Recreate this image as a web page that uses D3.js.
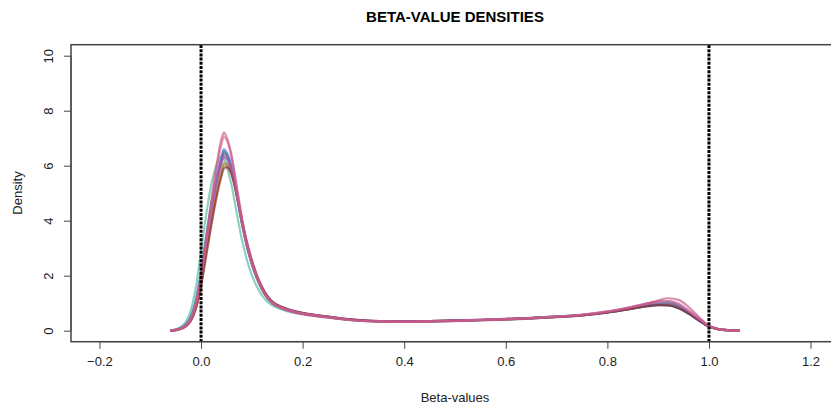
<!DOCTYPE html>
<html>
<head>
<meta charset="utf-8">
<script src="https://cdn.jsdelivr.net/npm/d3@7"></script>
<style>
  body { margin: 0; background: #fff; }
  svg { font-family: "Liberation Sans", Arial, sans-serif; }
</style>
</head>
<body>
<svg id="chart" width="831" height="408"></svg>
<script>
var betaGrid = [-0.06,-0.05,-0.04,-0.03,-0.02,-0.01,0,0.01,0.02,0.03,0.04,0.045,0.05,0.06,0.07,0.08,0.09,0.1,0.11,0.12,0.13,0.14,0.16,0.18,0.2,0.25,0.3,0.35,0.4,0.45,0.5,0.55,0.6,0.65,0.7,0.75,0.8,0.85,0.88,0.9,0.92,0.94,0.96,0.98,1.0,1.02,1.04,1.06];

var sampleTeal   = [0.01,0.05,0.14,0.32,0.75,1.6,2.9,4.2,5.3,6.0,6.35,6.3,6.0,5.3,4.3,3.35,2.6,2.02,1.6,1.28,1.06,0.92,0.76,0.66,0.6,0.48,0.38,0.34,0.33,0.34,0.36,0.38,0.41,0.45,0.5,0.56,0.67,0.83,0.93,0.98,0.98,0.88,0.66,0.4,0.16,0.05,0.015,0];
var sampleCyan   = [0,0.04,0.11,0.25,0.55,1.2,2.25,3.5,4.6,5.5,6.2,6.5,6.42,5.92,4.98,3.95,3.08,2.4,1.88,1.48,1.19,1.0,0.81,0.69,0.62,0.49,0.38,0.34,0.33,0.34,0.36,0.38,0.41,0.45,0.5,0.56,0.66,0.8,0.89,0.93,0.92,0.82,0.62,0.37,0.15,0.05,0.015,0];
var sampleGreen  = [0,0.03,0.1,0.22,0.5,1.1,2.1,3.35,4.5,5.45,6.2,6.45,6.38,5.9,5.0,4.0,3.12,2.44,1.9,1.5,1.2,1.01,0.82,0.7,0.62,0.49,0.38,0.34,0.33,0.34,0.36,0.38,0.41,0.45,0.5,0.56,0.67,0.84,0.96,1.03,1.04,0.93,0.69,0.41,0.16,0.05,0.015,0];
var sampleOlive  = [0,0.03,0.08,0.19,0.42,0.92,1.85,3.0,4.1,5.05,5.8,6.1,6.1,5.7,4.9,3.95,3.12,2.46,1.94,1.53,1.23,1.03,0.83,0.71,0.63,0.5,0.39,0.35,0.34,0.35,0.37,0.39,0.42,0.46,0.5,0.57,0.67,0.81,0.9,0.94,0.93,0.83,0.63,0.38,0.15,0.05,0.015,0];
var sampleBrown  = [0,0.02,0.07,0.17,0.38,0.85,1.7,2.85,3.95,4.95,5.75,6.02,6.05,5.72,4.98,4.05,3.2,2.52,1.98,1.57,1.26,1.05,0.85,0.72,0.64,0.51,0.4,0.35,0.34,0.35,0.37,0.4,0.43,0.47,0.52,0.58,0.69,0.84,0.93,0.97,0.96,0.86,0.64,0.39,0.15,0.05,0.015,0];
var sampleSteel  = [0,0.03,0.09,0.2,0.46,1.02,2.0,3.25,4.45,5.45,6.25,6.55,6.45,5.95,5.02,3.98,3.12,2.45,1.92,1.52,1.22,1.02,0.82,0.7,0.62,0.49,0.39,0.35,0.34,0.35,0.37,0.39,0.42,0.46,0.51,0.57,0.67,0.81,0.9,0.94,0.93,0.83,0.62,0.37,0.15,0.05,0.015,0];
var samplePurple = [0,0.03,0.09,0.2,0.45,1.0,1.95,3.15,4.3,5.3,6.05,6.3,6.25,5.82,4.95,3.98,3.13,2.47,1.94,1.54,1.24,1.04,0.84,0.72,0.64,0.51,0.4,0.35,0.34,0.35,0.37,0.4,0.43,0.47,0.52,0.58,0.69,0.85,0.95,1.0,1.0,0.9,0.67,0.4,0.16,0.05,0.015,0];
var sampleBlue   = [0,0.03,0.09,0.21,0.47,1.05,2.05,3.3,4.5,5.5,6.3,6.6,6.5,6.0,5.05,4.0,3.15,2.48,1.95,1.54,1.23,1.03,0.83,0.71,0.63,0.5,0.39,0.35,0.34,0.35,0.37,0.39,0.42,0.46,0.51,0.57,0.67,0.82,0.91,0.95,0.94,0.84,0.63,0.38,0.15,0.05,0.015,0];
var sampleDarkRed = [0,0.02,0.06,0.15,0.35,0.8,1.6,2.7,3.8,4.8,5.6,5.9,5.95,5.7,5.0,4.1,3.25,2.58,2.02,1.6,1.28,1.07,0.86,0.73,0.65,0.51,0.4,0.35,0.34,0.35,0.37,0.39,0.42,0.46,0.5,0.56,0.66,0.8,0.89,0.93,0.92,0.82,0.62,0.38,0.15,0.05,0.015,0];
var sampleMagenta = [0,0.03,0.09,0.2,0.45,1.0,1.98,3.2,4.38,5.4,6.15,6.4,6.32,5.85,4.95,3.95,3.1,2.44,1.92,1.52,1.22,1.02,0.83,0.71,0.63,0.5,0.39,0.35,0.34,0.35,0.37,0.39,0.42,0.46,0.51,0.58,0.7,0.88,1.0,1.07,1.08,0.97,0.72,0.43,0.17,0.05,0.015,0];
var samplePink2  = [0,0.03,0.08,0.19,0.43,0.98,1.95,3.2,4.55,5.75,6.75,7.05,6.95,6.3,5.2,4.1,3.2,2.5,1.95,1.53,1.22,1.02,0.82,0.7,0.62,0.49,0.38,0.34,0.33,0.34,0.36,0.39,0.42,0.46,0.51,0.58,0.7,0.87,0.99,1.06,1.08,0.98,0.74,0.45,0.17,0.05,0.015,0];
var samplePink1  = [0,0.02,0.07,0.17,0.4,0.95,1.95,3.3,4.7,5.95,6.95,7.2,7.05,6.4,5.3,4.15,3.2,2.5,1.95,1.52,1.2,1.0,0.8,0.68,0.6,0.47,0.37,0.33,0.32,0.33,0.35,0.37,0.4,0.44,0.49,0.56,0.68,0.86,1.0,1.1,1.18,1.12,0.86,0.5,0.18,0.06,0.015,0];

var samples = [sampleTeal, sampleCyan, sampleGreen, sampleOlive, sampleBrown, sampleSteel,
               samplePurple, sampleBlue, sampleDarkRed, sampleMagenta, samplePink2, samplePink1];
var sampleColors = ["#4fb89c", "#62b8d6", "#3c9a58", "#a59c3a", "#b07a3c", "#4a78a8",
                    "#8a5fb0", "#5b7fd0", "#8b1c1c", "#b04fa8", "#d77aa0", "#c8507f"];

var xTicks = [-0.2, 0, 0.2, 0.4, 0.6, 0.8, 1.0, 1.2];
var yTicks = [0, 2, 4, 6, 8, 10];
var cutoffs = [0, 1];

var svg = d3.select("#chart");
var x = d3.scaleLinear().domain([-0.256, 1.256]).range([71, 839]);
var y = d3.scaleLinear().domain([-0.4, 10.4]).range([341.7, 44.7]);
var axisColor = "#444";

// title
svg.append("text")
    .attr("x", 455).attr("y", 22)
    .attr("text-anchor", "middle")
    .style("font-size", "15px").style("font-weight", "bold")
    .text("BETA-VALUE DENSITIES");

svg.append("clipPath").attr("id", "plotClip")
    .append("rect").attr("x", 71).attr("y", 44.7).attr("width", 768).attr("height", 297);

var line = d3.line()
    .x(function (d, i) { return x(betaGrid[i]); })
    .y(function (d) { return y(d); })
    .curve(d3.curveMonotoneX);

svg.append("g").attr("clip-path", "url(#plotClip)")
    .selectAll("path")
    .data(samples)
    .enter()
    .append("path")
    .attr("d", line)
    .style("fill", "none")
    .style("stroke", function (d, i) { return sampleColors[i]; })
    .style("stroke-width", "2.2px")
    .style("stroke-opacity", 0.65);

// dotted cut-off lines at 0 and 1
svg.selectAll("line.cut")
    .data(cutoffs)
    .enter()
    .append("line")
    .attr("class", "cut")
    .attr("x1", function (d) { return x(d); })
    .attr("x2", function (d) { return x(d); })
    .attr("y1", 45).attr("y2", 341.7)
    .style("stroke", "#000")
    .style("stroke-width", "3px")
    .style("stroke-dasharray", "3,1.2");

// plot frame
svg.append("rect")
    .attr("x", 71).attr("y", 44.7).attr("width", 768).attr("height", 297)
    .style("fill", "none").style("stroke", axisColor).style("stroke-width", "1.5px");

// x axis
var gx = svg.append("g")
    .attr("transform", "translate(0,341.7)")
    .call(d3.axisBottom(x).tickValues(xTicks).tickSize(7).tickPadding(8)
        .tickFormat(d3.format(".1f")));
gx.select(".domain").remove();
gx.append("line").attr("x1", x(-0.2)).attr("x2", x(1.2)).attr("y1", 0).attr("y2", 0)
    .style("stroke", axisColor);
gx.selectAll(".tick line").style("stroke", axisColor);
gx.selectAll(".tick text").style("font-size", "13px").style("fill", "#222")
    .style("font-family", "'Liberation Sans', Arial, sans-serif")
    .text(function (d) { return d3.format(".1f")(d); });

// y axis with rotated labels
var gy = svg.append("g")
    .attr("transform", "translate(71,0)")
    .call(d3.axisLeft(y).tickValues(yTicks).tickSize(7));
gy.select(".domain").remove();
gy.append("line").attr("x1", 0).attr("x2", 0).attr("y1", y(0)).attr("y2", y(10))
    .style("stroke", axisColor);
gy.selectAll(".tick line").style("stroke", axisColor);
gy.selectAll(".tick text")
    .attr("x", null).attr("dy", null)
    .attr("text-anchor", "middle")
    .attr("transform", "translate(-23,0) rotate(-90)")
    .attr("y", 0)
    .attr("dy", "0.35em")
    .style("font-size", "13px").style("fill", "#222")
    .style("font-family", "'Liberation Sans', Arial, sans-serif");

// axis titles
svg.append("text")
    .attr("x", 455).attr("y", 402)
    .attr("text-anchor", "middle")
    .style("font-size", "13px").style("fill", "#222")
    .text("Beta-values");
svg.append("text")
    .attr("transform", "translate(17,193) rotate(-90)")
    .attr("text-anchor", "middle")
    .attr("dy", "0.35em")
    .style("font-size", "13px").style("fill", "#222")
    .text("Density");
</script>
</body>
</html>
